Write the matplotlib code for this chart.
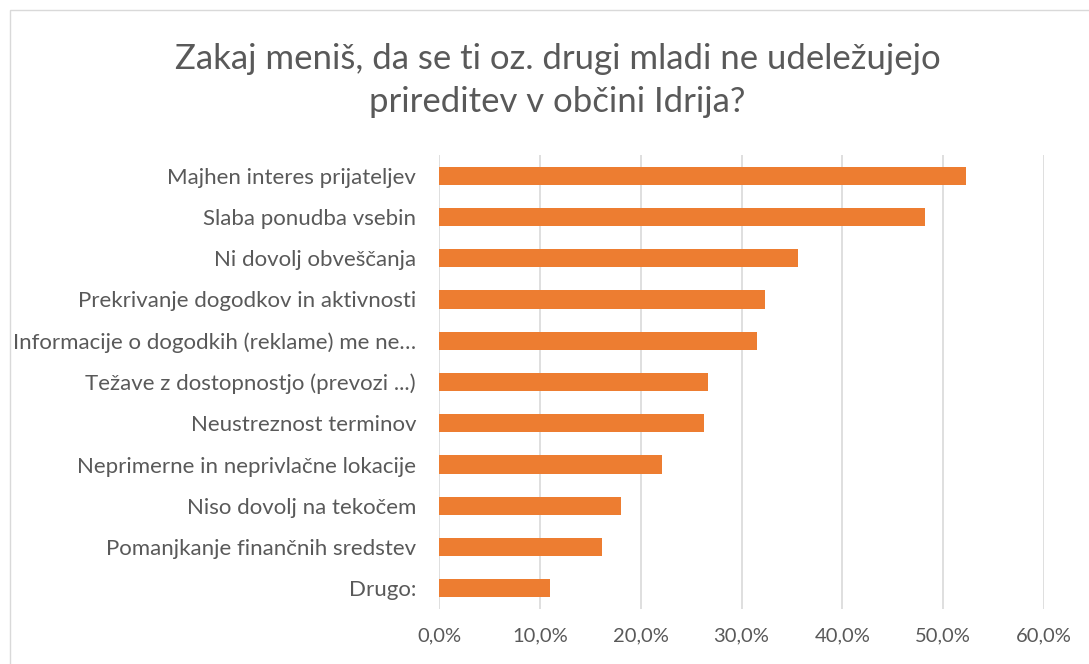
import matplotlib
matplotlib.use("Agg")
import matplotlib.pyplot as plt
from matplotlib.patches import Rectangle
from matplotlib.ticker import FuncFormatter

plt.rcParams['font.family'] = ['Lato', 'DejaVu Sans']

categories = [
    "Majhen interes prijateljev",
    "Slaba ponudba vsebin",
    "Ni dovolj obveščanja",
    "Prekrivanje dogodkov in aktivnosti",
    "Informacije o dogodkih (reklame) me ne…",
    "Težave z dostopnostjo (prevozi ...)",
    "Neustreznost terminov",
    "Neprimerne in neprivlačne lokacije",
    "Niso dovolj na tekočem",
    "Pomanjkanje finančnih sredstev",
    "Drugo:",
]
values = [0.523, 0.482, 0.356, 0.323, 0.315, 0.267, 0.263, 0.221, 0.181, 0.162, 0.110]
xticks = [0.0, 0.1, 0.2, 0.3, 0.4, 0.5, 0.6]

text_color = "#595959"
bar_color = "#ED7D31"
grid_color = "#D9D9D9"

fig = plt.figure(figsize=(10.89, 6.64), dpi=100)
ax = fig.add_axes([0.4031, 0.0828, 0.5556, 0.6838])

pos = list(range(len(categories)))
ax.barh(pos, values, height=0.44, color=bar_color, zorder=3)
ax.set_ylim(len(categories) - 0.5, -0.5)
ax.set_xlim(0, 0.6)
ax.set_xticks(xticks)
ax.xaxis.set_major_formatter(FuncFormatter(lambda v, _: f"{v*100:.1f}%".replace(".", ",")))
ax.set_yticks(pos)
ax.set_yticklabels(categories)

ax.grid(axis="x", color=grid_color, linewidth=1.2, zorder=0)
for s in ax.spines.values():
    s.set_visible(False)
ax.tick_params(axis="both", length=0, colors=text_color)
ax.tick_params(axis="y", pad=16.5, labelsize=16)
ax.tick_params(axis="x", pad=13, labelsize=14.5)

# title split over two lines like the original
fig.text(0.512, 0.911, "Zakaj meniš, da se ti oz. drugi mladi ne udeležujejo",
         ha="center", va="center", fontsize=25, color=text_color)
fig.text(0.512, 0.846, "prireditev v občini Idrija?",
         ha="center", va="center", fontsize=25, color=text_color)

fig.patches.append(Rectangle((10 / 1089, -0.01), 1.02, 1 - 10 / 664 + 0.01,
                             transform=fig.transFigure, fill=False,
                             edgecolor=grid_color, linewidth=1))

fig.savefig("out.png", dpi=100)
